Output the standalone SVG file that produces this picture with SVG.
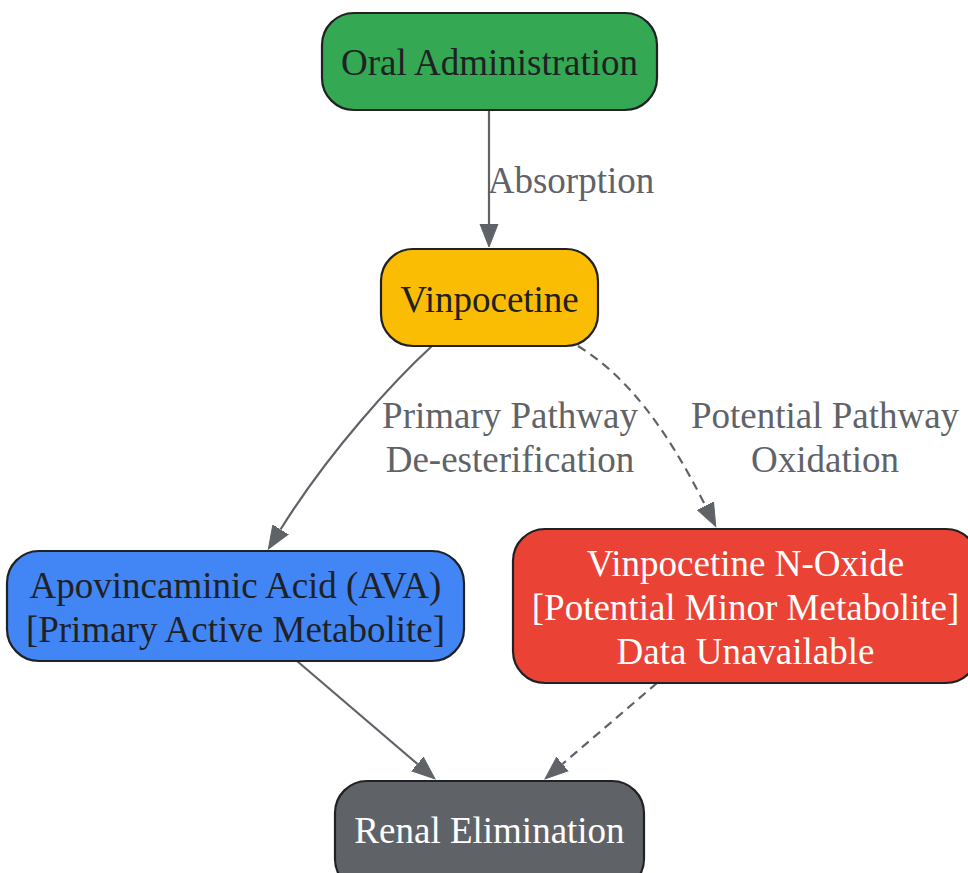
<svg xmlns="http://www.w3.org/2000/svg" width="968" height="873" viewBox="0 0 968 873">
<style>
.node rect{stroke:#202124;stroke-width:2.2}
text{font-family:"Liberation Serif","Times New Roman",serif;font-size:37px;text-anchor:middle}
.dark{fill:#202124}
.light{fill:#ffffff}
.lbl{fill:#5f6368}
.edge{fill:none;stroke:#5f6368;stroke-width:2.2}
.dash{stroke-dasharray:9,6}
</style>
<defs>
<marker id="arr" markerUnits="userSpaceOnUse" markerWidth="26" markerHeight="20" refX="0" refY="9" orient="auto" viewBox="0 0 26 18">
<path d="M0,0 L23,9 L0,18 Z" fill="#5f6368" stroke="#5f6368" stroke-width="1"/>
</marker>
</defs>
<rect width="968" height="873" fill="#ffffff"/>
<g id="edges">
<g id="e1"><path class="edge" d="M489,110 L489,224" marker-end="url(#arr)"/><text class="lbl" x="571" y="193">Absorption</text></g>
<g id="e2"><path class="edge" d="M432,346 C395,380 330,450 280.5,529.5" marker-end="url(#arr)"/><text class="lbl" x="510" y="428">Primary Pathway</text><text class="lbl" x="510" y="472">De-esterification</text></g>
<g id="e3"><path class="edge dash" d="M578,346 C625,375 665,425 705.5,506" marker-end="url(#arr)"/><text class="lbl" x="825" y="428">Potential Pathway</text><text class="lbl" x="825" y="472">Oxidation</text></g>
<g id="e4"><path class="edge" d="M297,661 L417.5,764" marker-end="url(#arr)"/></g>
<g id="e5"><path class="edge dash" d="M657,683 L562.5,764" marker-end="url(#arr)"/></g>
</g>
<g id="oral" class="node"><rect x="322" y="13" width="335" height="97" rx="32" fill="#34a853"/><text class="dark" x="489.5" y="75">Oral Administration</text></g>
<g id="vinpocetine" class="node"><rect x="381" y="249" width="217" height="97" rx="32" fill="#fbbc04"/><text class="dark" x="489.5" y="312">Vinpocetine</text></g>
<g id="ava" class="node"><rect x="7" y="551" width="457" height="110" rx="32" fill="#4285f4"/><text class="dark" x="235.5" y="598">Apovincaminic Acid (AVA)</text><text class="dark" x="235.5" y="642">[Primary Active Metabolite]</text></g>
<g id="noxide" class="node"><rect x="513" y="529" width="465" height="154" rx="32" fill="#ea4335"/><text class="light" x="745.5" y="576">Vinpocetine N-Oxide</text><text class="light" x="745.5" y="620">[Potential Minor Metabolite]</text><text class="light" x="745.5" y="664">Data Unavailable</text></g>
<g id="renal" class="node"><rect x="335" y="781" width="309" height="110" rx="32" fill="#5f6368"/><text class="light" x="489.5" y="843">Renal Elimination</text></g>
</svg>
